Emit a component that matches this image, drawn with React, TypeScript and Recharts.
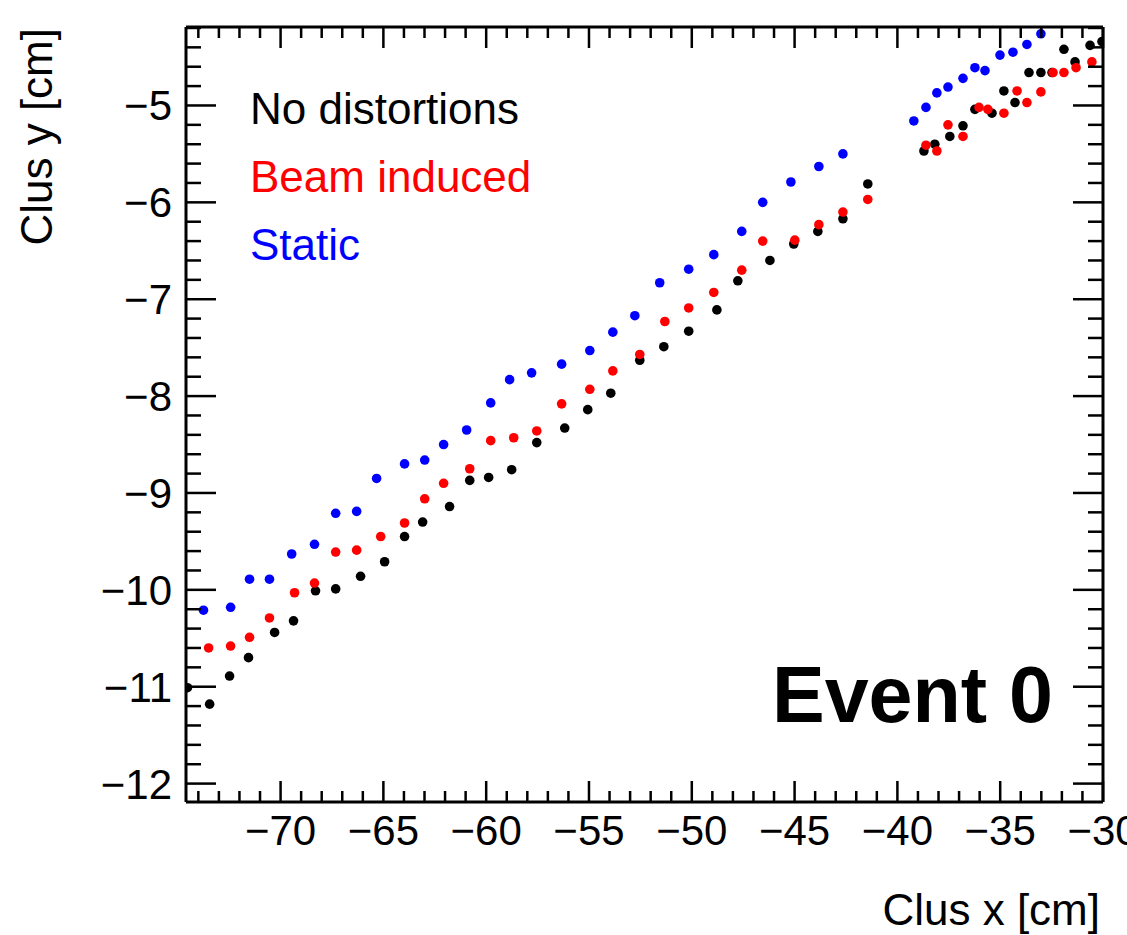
import React from 'react';
import { ScatterChart, Scatter, XAxis, YAxis, Legend } from 'recharts';

// ---- Data ----
const noDistortionsX = [
  -74.53, -73.45, -72.48, -71.56, -70.29, -69.37, -68.30, -67.32, -66.11, -64.94,
  -63.97, -63.09, -61.78, -60.80, -59.88, -58.76, -57.54, -56.18, -55.06, -53.94,
  -52.53, -51.36, -50.15, -48.78, -47.76, -46.20, -45.04, -43.87, -42.65, -41.44,
  -38.71, -38.18, -37.45, -36.81, -36.23, -35.40, -34.82, -34.28, -33.60, -33.02,
  -32.48, -31.90, -31.36, -30.63, -30.05,
];
const noDistortionsY = [
  -11.01, -11.18, -10.89, -10.70, -10.44, -10.32, -10.01, -9.99, -9.86, -9.71,
  -9.45, -9.30, -9.14, -8.87, -8.84, -8.76, -8.48, -8.33, -8.14, -7.97,
  -7.63, -7.49, -7.33, -7.11, -6.81, -6.60, -6.43, -6.30, -6.17, -5.81,
  -5.47, -5.40, -5.32, -5.21, -5.04, -5.08, -4.85, -4.97, -4.66, -4.66,
  -4.66, -4.42, -4.55, -4.38, -4.34,
];

const beamInducedX = [
  -73.50, -72.43, -71.51, -70.54, -69.32, -68.35, -67.32, -66.30, -65.13, -63.97,
  -62.99, -62.07, -60.80, -59.78, -58.66, -57.54, -56.33, -54.96, -53.84, -52.53,
  -51.31, -50.15, -48.93, -47.57, -46.55, -44.99, -43.82, -42.65, -41.44,
  -38.61, -38.08, -37.54, -36.81, -36.03, -35.60, -34.82, -34.18, -33.70, -33.02,
  -32.43, -31.90, -31.31, -30.54,
];
const beamInducedY = [
  -10.60, -10.58, -10.49, -10.29, -10.03, -9.93, -9.61, -9.59, -9.45, -9.31,
  -9.06, -8.90, -8.75, -8.46, -8.43, -8.36, -8.08, -7.93, -7.74, -7.57,
  -7.23, -7.09, -6.93, -6.70, -6.40, -6.39, -6.23, -6.10, -5.97,
  -5.41, -5.47, -5.20, -5.32, -5.02, -5.04, -5.08, -4.85, -4.97, -4.86,
  -4.66, -4.66, -4.61, -4.55,
];

const staticX = [
  -73.75, -72.43, -71.51, -70.54, -69.46, -68.35, -67.32, -66.30, -65.33, -63.97,
  -62.99, -62.07, -60.95, -59.78, -58.86, -57.79, -56.33, -54.96, -53.84, -52.77,
  -51.56, -50.15, -48.93, -47.57, -46.55, -45.18, -43.82, -42.65,
  -39.20, -38.61, -38.08, -37.54, -36.81, -36.23, -35.74, -35.01, -34.38, -33.70,
  -33.02,
];
const staticY = [
  -10.21, -10.18, -9.89, -9.89, -9.63, -9.53, -9.21, -9.19, -8.85, -8.70,
  -8.66, -8.50, -8.35, -8.07, -7.83, -7.76, -7.67, -7.53, -7.34, -7.17,
  -6.83, -6.69, -6.54, -6.30, -6.00, -5.79, -5.63, -5.50,
  -5.16, -5.02, -4.87, -4.81, -4.72, -4.61, -4.64, -4.48, -4.45, -4.37,
  -4.26,
];

const seriesNames = ['No distortions', 'Beam induced', 'Static'];
const seriesColors = ['#000000', '#ff0000', '#0000ff'];

const xMajorTicks = [-70, -65, -60, -55, -50, -45, -40, -35, -30];
const yMajorTicks = [-12, -11, -10, -9, -8, -7, -6, -5];
const xDomain: [number, number] = [-74.6, -30];
const yDomain: [number, number] = [-12.19, -4.19];

const xTitle = 'Clus x [cm]';
const yTitle = 'Clus y [cm]';
const eventLabel = 'Event 0';

// tick positions: minor every 1 on x, every 0.2 on y
const xTicks = Array.from({ length: 45 }, (_, i) => -74 + i);
const yTicks = Array.from({ length: 40 }, (_, i) => Math.round((-12 + i * 0.2) * 10) / 10);

const toPoints = (xs: number[], ys: number[]) => xs.map((x, i) => ({ x, y: ys[i] }));
const noDistortions = toPoints(noDistortionsX, noDistortionsY);
const beamInduced = toPoints(beamInducedX, beamInducedY);
const staticDist = toPoints(staticX, staticY);

// ---- Styling helpers ----
const FONT = '"Liberation Sans", Arial, Helvetica, sans-serif';
const TICK_FONT = 42;
const TEXT_FONT = 44;
const TICK_W = 2.5;
const isMajor = (v: number, list: number[]) => list.some((m) => Math.abs(m - v) < 1e-6);
const fmt = (v: number) => (v < 0 ? '\u2212' + String(Math.abs(v)) : String(v));

const BottomTick = (props: any) => {
  const { x, y, payload } = props;
  const v = payload.value;
  const major = isMajor(v, xMajorTicks);
  return (
    <g>
      <line x1={x} x2={x} y1={y} y2={y - (major ? 21 : 11)} stroke="#000" strokeWidth={TICK_W} />
      {major && (
        <text x={x} y={y + 43} textAnchor="middle" fontSize={TICK_FONT} fontFamily={FONT} fill="#000">
          {fmt(v)}
        </text>
      )}
    </g>
  );
};

const TopTick = (props: any) => {
  const { x, y, payload } = props;
  const major = isMajor(payload.value, xMajorTicks);
  return <line x1={x} x2={x} y1={y} y2={y + (major ? 21 : 11)} stroke="#000" strokeWidth={TICK_W} />;
};

const LeftTick = (props: any) => {
  const { x, y, payload } = props;
  const v = payload.value;
  const major = isMajor(v, yMajorTicks);
  return (
    <g>
      <line x1={x} x2={x + (major ? 30 : 15)} y1={y} y2={y} stroke="#000" strokeWidth={TICK_W} />
      {major && (
        <text x={x - 14} y={y + 15} textAnchor="end" fontSize={TICK_FONT} fontFamily={FONT} fill="#000">
          {fmt(v)}
        </text>
      )}
    </g>
  );
};

const RightTick = (props: any) => {
  const { x, y, payload } = props;
  const major = isMajor(payload.value, yMajorTicks);
  return <line x1={x} x2={x - (major ? 30 : 15)} y1={y} y2={y} stroke="#000" strokeWidth={TICK_W} />;
};

const dotShape = (color: string) => (props: any) => (
  <circle cx={props.cx} cy={props.cy} r={4.8} fill={color} />
);

const renderLegend = (props: any) => {
  const payload = [...(props.payload || [])].sort(
    (a: any, b: any) => seriesNames.indexOf(a.value) - seriesNames.indexOf(b.value)
  );
  return (
    <div style={{ fontFamily: FONT, fontSize: TEXT_FONT, lineHeight: '68px', whiteSpace: 'nowrap' }}>
      {payload.map((entry: any) => (
        <div key={entry.value} style={{ color: entry.color }}>
          {entry.value}
        </div>
      ))}
    </div>
  );
};

const axisLine = { stroke: '#000', strokeWidth: 3 };

export default function App() {
  return (
    <div style={{ position: 'absolute', left: 0, top: 0, width: 1127, height: 935, background: '#fff' }}>
      <ScatterChart width={1127} height={935} margin={{ top: 26, right: 23, bottom: 132, left: 185 }}>
        <XAxis
          xAxisId="b"
          dataKey="x"
          type="number"
          domain={xDomain}
          allowDataOverflow
          ticks={xTicks}
          interval={0}
          tick={BottomTick}
          tickLine={false}
          tickSize={0}
          tickMargin={0}
          height={1}
          axisLine={axisLine}
        />
        <XAxis
          xAxisId="t"
          orientation="top"
          dataKey="x"
          type="number"
          domain={xDomain}
          allowDataOverflow
          ticks={xTicks}
          interval={0}
          tick={TopTick}
          tickLine={false}
          tickSize={0}
          tickMargin={0}
          height={1}
          axisLine={axisLine}
        />
        <YAxis
          yAxisId="l"
          dataKey="y"
          type="number"
          domain={yDomain}
          allowDataOverflow
          ticks={yTicks}
          interval={0}
          tick={LeftTick}
          tickLine={false}
          tickSize={0}
          tickMargin={0}
          width={1}
          axisLine={axisLine}
        />
        <YAxis
          yAxisId="r"
          orientation="right"
          dataKey="y"
          type="number"
          domain={yDomain}
          allowDataOverflow
          ticks={yTicks}
          interval={0}
          tick={RightTick}
          tickLine={false}
          tickSize={0}
          tickMargin={0}
          width={1}
          axisLine={axisLine}
        />
        <Legend
          layout="horizontal"
          verticalAlign="middle"
          align="center"
          content={renderLegend}
          wrapperStyle={{ left: 250, top: 75, width: 'auto' }}
        />
        <Scatter
          name={seriesNames[0]}
          data={noDistortions}
          xAxisId="b"
          yAxisId="l"
          fill={seriesColors[0]}
          shape={dotShape(seriesColors[0])}
          isAnimationActive={false}
        />
        <Scatter
          name={seriesNames[1]}
          data={beamInduced}
          xAxisId="b"
          yAxisId="l"
          fill={seriesColors[1]}
          shape={dotShape(seriesColors[1])}
          isAnimationActive={false}
        />
        <Scatter
          name={seriesNames[2]}
          data={staticDist}
          xAxisId="b"
          yAxisId="l"
          fill={seriesColors[2]}
          shape={dotShape(seriesColors[2])}
          isAnimationActive={false}
        />
      </ScatterChart>
      <svg
        width={1127}
        height={935}
        style={{ position: 'absolute', left: 0, top: 0, pointerEvents: 'none' }}
      >
        <text x={1100} y={925} textAnchor="end" fontSize={TEXT_FONT} fontFamily={FONT} fill="#000">
          {xTitle}
        </text>
        <text
          transform="translate(52,28) rotate(-90)"
          textAnchor="end"
          fontSize={TEXT_FONT}
          fontFamily={FONT}
          fill="#000"
        >
          {yTitle}
        </text>
        <text
          x={1053}
          y={722}
          textAnchor="end"
          fontSize={79}
          fontWeight="bold"
          fontFamily={FONT}
          fill="#000"
        >
          {eventLabel}
        </text>
      </svg>
    </div>
  );
}
